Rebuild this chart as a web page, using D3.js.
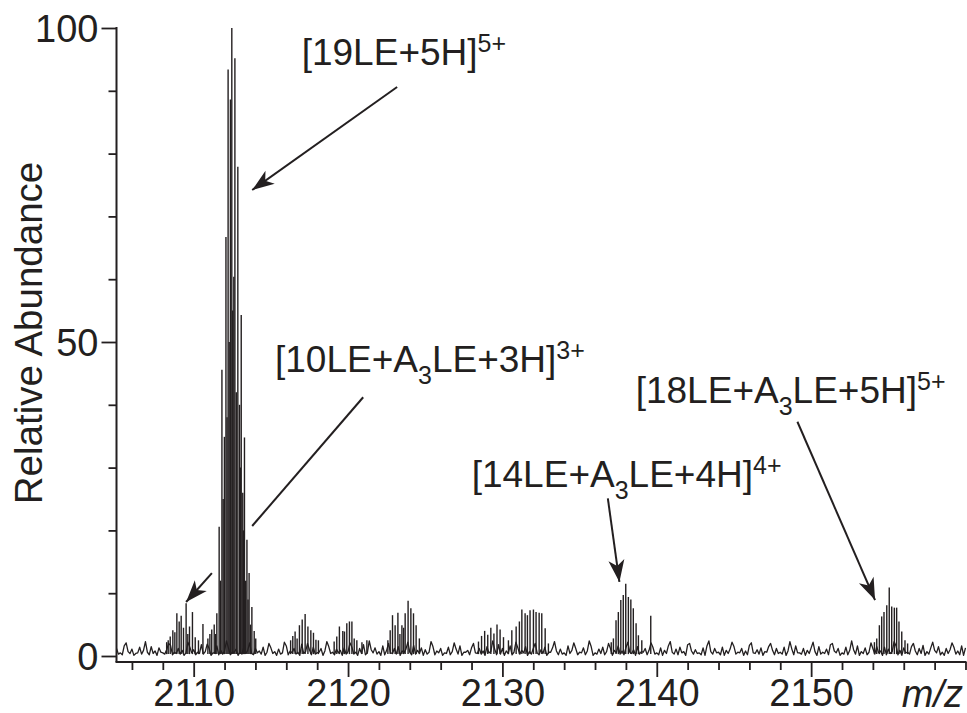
<!DOCTYPE html>
<html><head><meta charset="utf-8">
<script src="https://cdn.jsdelivr.net/npm/d3@7"></script>
<style>
body{margin:0;background:#fff}
svg{display:block}
text{font-family:'Liberation Sans',Arial,Helvetica,sans-serif;fill:#231f20}
</style>
</head><body>
<svg id="chart" width="967" height="713"></svg>
<script>
// ---------------- data ----------------
const xDomain = [2105, 2160];
const yDomain = [0, 100];
const xMajorTicks = [2110, 2120, 2130, 2140, 2150];
const xMinorTicks = [2106, 2108, 2112, 2114, 2116, 2118, 2122, 2124, 2126, 2128, 2132, 2134, 2136, 2138, 2142, 2144, 2146, 2148, 2152, 2154, 2156, 2158, 2160];
const yMajorTicks = [0, 50, 100];
const yMinorTicks = [10, 20, 30, 40, 60, 70, 80, 90];
const xAxisTitle = "m/z";
const yAxisTitle = "Relative Abundance";

// baseline noise, readings every 0.25 m/z from 2105.00 (A) and from 2105.125 (B)
const noiseStart = 2105, noiseStep = 0.25;
const noiseA = [
 1.2,0.5,1.6,0.7,1.1,0.4,1.4,0.9,0.6,1.5,0.8,1.3,0.5,1.0,1.7,0.6,1.2,0.9,0.5,1.4,
 1.0,0.6,1.8,0.7,1.2,0.5,1.6,0.9,0.8,1.3,0.6,1.1,0.7,1.5,0.9,0.4,1.2,0.8,1.4,0.6,
 1.3,0.7,1.1,0.5,1.6,0.8,1.2,0.6,1.9,0.7,1.0,1.4,0.5,1.2,0.8,1.5,0.6,1.1,0.9,1.3,
 0.7,1.4,0.6,1.2,1.8,0.5,1.0,1.3,0.7,1.6,0.9,0.5,1.2,1.5,0.8,1.1,0.6,1.7,0.9,1.3,
 1.0,0.6,1.5,0.8,1.2,0.5,1.4,0.7,1.1,1.6,0.6,0.9,1.3,0.5,1.2,0.8,1.5,0.7,1.1,1.8,
 1.2,0.8,1.6,0.6,1.3,0.9,1.5,0.7,1.2,0.5,1.0,1.4,0.6,1.3,0.8,1.1,0.5,1.6,0.9,1.2,
 0.6,1.3,0.8,1.5,0.5,1.1,1.4,0.7,1.2,0.9,1.6,0.8,1.3,0.6,1.0,1.5,0.7,1.2,0.9,1.4,
 0.5,1.3,0.9,1.6,0.6,1.1,1.4,0.7,1.8,0.8,1.0,0.5,1.3,1.6,0.7,1.2,0.6,1.4,0.9,1.1,
 1.5,0.6,1.2,0.8,1.7,0.5,1.0,1.3,0.7,1.5,0.9,1.2,0.6,1.4,0.8,1.1,1.6,0.5,1.2,0.9,
 1.3,0.7,1.5,0.6,1.1,1.8,0.8,1.2,0.5,1.4,0.9,1.0,1.6,0.7,1.3,0.6,1.2,1.5,0.8,1.4,
 1.1,0.7,1.6,0.9,1.3,0.6,1.5,0.8,1.2,1.7,0.7,1.3,0.9,1.5,0.6,1.2,1.0,1.4,0.8,1.6,1.3
];
const noiseB = [
 0.3,0.2,2.1,0.4,0.1,0.5,0.3,2.3,0.2,0.4,0.1,0.6,0.3,2.0,0.2,0.4,0.3,0.1,2.2,0.5,
 0.2,0.4,0.3,1.9,0.1,0.5,0.2,0.3,2.4,0.2,0.6,0.1,0.3,0.4,2.1,0.2,0.5,0.3,0.1,2.0,
 0.4,0.1,0.3,2.2,0.2,0.5,0.3,0.1,0.4,2.0,0.2,0.3,0.6,0.1,2.3,0.4,0.2,0.5,0.1,0.3,
 2.1,0.3,0.1,0.4,0.2,2.4,0.5,0.3,0.1,0.2,2.0,0.4,0.3,0.1,0.5,2.2,0.2,0.3,0.4,0.1,
 0.3,2.3,0.2,0.5,0.1,0.4,0.2,2.1,0.3,0.1,0.6,0.2,2.0,0.4,0.3,0.1,0.5,2.4,0.2,0.3,
 0.1,0.4,0.2,2.2,0.3,0.5,0.1,0.3,2.0,0.2,0.4,0.1,0.6,2.3,0.2,0.3,0.1,0.4,2.1,0.2,
 0.5,0.2,2.4,0.1,0.3,0.4,0.2,2.0,0.1,0.5,0.3,0.2,2.2,0.4,0.1,0.3,0.6,0.2,2.1,0.3,
 0.2,0.1,0.4,2.3,0.3,0.2,0.5,0.1,2.0,0.3,0.4,0.2,0.1,2.4,0.3,0.5,0.2,0.1,0.4,2.2,
 0.3,0.5,0.1,0.2,2.1,0.4,0.3,0.1,0.6,2.0,0.2,0.4,0.3,0.1,2.3,0.2,0.5,0.3,0.1,0.4,
 2.2,0.1,0.3,0.4,0.2,2.0,0.5,0.1,0.3,0.2,2.4,0.3,0.1,0.4,0.2,2.1,0.3,0.5,0.1,0.2,
 0.4,2.3,0.2,0.1,0.5,0.3,2.0,0.2,0.4,0.1,0.3,2.2,0.5,0.2,0.1,0.4,2.1,0.3,0.2,0.1
];

// isotope peaks (m/z, relative abundance)
const peakMz = [
 // 2108-2111 cluster
 2108.25,2108.35,2108.48,2108.65,2108.78,2108.91,2109.06,2109.19,2109.34,2109.51,2109.62,2109.73,2109.92,2110.10,2110.31,2110.60,2110.92,
 // main cluster
 2111.05,2111.17,2111.33,2111.42,2111.50,2111.65,2111.74,2111.83,2111.91,2111.99,2112.09,2112.16,2112.23,2112.30,2112.38,2112.47,2112.53,
 2112.60,2112.67,2112.76,2112.86,2112.97,2113.02,2113.08,2113.18,2113.23,2113.29,2113.37,2113.45,2113.52,2113.59,2113.68,2113.77,2113.92,2114.02,
 // 2116-2118
 2116.28,2116.42,2116.57,2116.70,2116.85,2117.03,2117.22,2117.40,2117.59,2117.76,2117.92,2118.08,
 // 2119-2121
 2119.10,2119.27,2119.44,2119.66,2119.77,2119.92,2120.09,2120.25,2120.40,2120.57,2120.90,2121.22,
 // 2122-2125
 2122.58,2122.73,2122.88,2123.05,2123.23,2123.36,2123.49,2123.60,2123.70,2123.89,2124.07,2124.24,2124.41,2124.62,
 // 2128-2133
 2128.45,2128.65,2128.85,2129.05,2129.25,2129.45,2129.65,2129.85,2130.07,2130.39,2130.61,2130.89,2131.10,2131.26,2131.47,2131.62,2131.79,
 2132.01,2132.18,2132.38,2132.55,2132.77,2132.98,
 // 2137-2139
 2137.05,2137.19,2137.36,2137.51,2137.67,2137.83,2137.99,2138.16,2138.32,2138.48,2138.66,2138.81,2139.03,2139.61,
 // 2154-2156
 2154.10,2154.25,2154.42,2154.57,2154.72,2154.90,2155.06,2155.22,2155.39,2155.54,2155.69,2155.87,2156.08,2156.25
];
const peakInt = [
 2.2,2.5,3.1,4.1,3.8,6.8,5.5,6.4,4.5,8.4,3.5,4.7,7.0,3.0,2.5,5.1,2.8,
 3.5,4.2,5.0,3.5,6.8,20.6,12,45.6,25,34.9,66.7,38,93.4,50,88.6,100,55,
 60.4,95.2,42,77.9,40,30,54.3,26,20,34.8,12,18.5,9,13.2,5,7.8,4.0,2.8,
 2.5,3.2,3.9,2.8,4.9,5.8,6.7,4.7,4.1,3.7,2.6,2.5,
 2.3,3.1,4.7,4.0,3.9,5.2,5.5,5.5,2.8,2.5,2.2,2.5,
 2.5,4.1,6.5,4.9,6.9,3.5,4.9,4.5,6.8,8.8,7.6,6.8,4.9,2.8,
 2.3,3.2,4.0,3.4,4.5,3.6,5.0,4.2,3.0,2.5,4.1,4.7,5.5,7.4,6.8,6.5,7.3,
 7.4,7.0,6.9,6.8,4.4,2.0,
 2.2,2.8,5.7,7.0,8.9,9.7,11.5,9.4,9.0,7.6,5.2,3.3,2.5,6.4,
 2.2,2.8,4.9,6.3,7.0,8.1,10.9,7.9,7.7,7.7,5.5,3.9,2.5,2.0
];

// annotation labels: segments with optional sub/superscript
const labelTexts = [
 [["[19LE+5H]",""],["5+","sup"]],
 [["[10LE+A",""],["3","sub"],["LE+3H]",""],["3+","sup"]],
 [["[14LE+A",""],["3","sub"],["LE+4H]",""],["4+","sup"]],
 [["[18LE+A",""],["3","sub"],["LE+5H]",""],["5+","sup"]]
];
// pointer lines in data coordinates
const pointerFromMz = [2123.18, 2120.98, 2111.18, 2136.83, 2149.11];
const pointerFromInt = [90.6, 41.2, 13.2, 25.1, 37.3];
const pointerToMz = [2113.79, 2113.79, 2109.51, 2137.58, 2154.14];
const pointerToInt = [74.2, 20.7, 8.6, 11.8, 8.9];
const pointerHead = [true, false, true, true, true];

// ---------------- layout ----------------
const plot = {left: 116.5, right: 965.5, top: 28, zeroY: 656, axisY: 662};
const labelPos = [[301.7, 65], [275, 371.7], [471.7, 486.7], [635.7, 403]];
const ink = "#231f20";
const tickFont = 38;

const svg = d3.select("#chart");
const x = d3.scaleLinear().domain(xDomain).range([plot.left, plot.right]);
const y = d3.scaleLinear().domain(yDomain).range([plot.zeroY, plot.top]);

// ---- spectrum: baseline noise + stick peaks
const noisePts = noiseA.map((v, i) => [noiseStart + i * noiseStep, v])
  .concat(noiseB.map((v, i) => [noiseStart + noiseStep / 2 + i * noiseStep, v]))
  .sort((a, b) => a[0] - b[0]);
const line = d3.line().x(d => x(d[0])).y(d => y(d[1]));
svg.append("path").attr("d", line(noisePts))
  .attr("fill", "none").attr("stroke", ink).attr("stroke-width", 1.3).attr("stroke-linejoin", "round");

const peaks = peakMz.map((m, i) => ({mz: m, v: peakInt[i]}));
svg.append("g").selectAll("line").data(peaks).join("line")
  .attr("x1", d => x(d.mz)).attr("x2", d => x(d.mz))
  .attr("y1", y(0.3)).attr("y2", d => y(d.v))
  .attr("stroke", ink).attr("stroke-width", 1.4);

// ---- axes
const yAxisMinor = d3.axisLeft(y).tickValues(yMinorTicks).tickSize(8).tickFormat("");
const yAxisMajor = d3.axisLeft(y).tickValues(yMajorTicks).tickSize(15).tickPadding(3).tickFormat(d3.format("d"));
const gy1 = svg.append("g").attr("transform", `translate(${plot.left},0)`).call(yAxisMinor);
const gy2 = svg.append("g").attr("transform", `translate(${plot.left},0)`).call(yAxisMajor);
[gy1, gy2].forEach(g => { g.select(".domain").remove(); g.selectAll("line").attr("stroke", ink).attr("stroke-width", 1.8); });
gy2.selectAll("text").attr("font-size", tickFont).attr("fill", ink).attr("dy", "0.36em")
  .style("font-family", "'Liberation Sans',Arial,sans-serif");
svg.append("line").attr("x1", plot.left).attr("x2", plot.left).attr("y1", plot.top - 1).attr("y2", plot.axisY)
  .attr("stroke", ink).attr("stroke-width", 2);

const xAxisMinor = d3.axisBottom(x).tickValues(xMinorTicks).tickSize(8).tickFormat("");
const xAxisMajor = d3.axisBottom(x).tickValues(xMajorTicks).tickSize(15).tickPadding(2).tickFormat(d3.format("d"));
const gx1 = svg.append("g").attr("transform", `translate(0,${plot.axisY})`).call(xAxisMinor);
const gx2 = svg.append("g").attr("transform", `translate(0,${plot.axisY})`).call(xAxisMajor);
[gx1, gx2].forEach(g => { g.select(".domain").remove(); g.selectAll("line").attr("stroke", ink).attr("stroke-width", 1.8); });
gx2.selectAll("text").attr("font-size", tickFont).attr("fill", ink).attr("dy", "0.71em")
  .style("font-family", "'Liberation Sans',Arial,sans-serif");
svg.append("line").attr("x1", plot.left - 1).attr("x2", plot.right + 1).attr("y1", plot.axisY).attr("y2", plot.axisY)
  .attr("stroke", ink).attr("stroke-width", 2);

svg.append("text").attr("x", 963).attr("y", 706.5).attr("text-anchor", "end")
  .attr("font-size", tickFont).attr("font-style", "italic").text(xAxisTitle);
svg.append("text").attr("transform", "translate(42,333) rotate(-90)").attr("text-anchor", "middle")
  .attr("font-size", 38.5).text(yAxisTitle);

// ---- annotations
labelTexts.forEach((segs, i) => {
  const t = svg.append("text").attr("x", labelPos[i][0]).attr("y", labelPos[i][1]).attr("font-size", 37);
  let shift = 0;
  segs.forEach(([s, kind]) => {
    const ts = t.append("tspan").text(s);
    const target = kind === "sup" ? -13 : kind === "sub" ? 12 : 0;
    ts.attr("dy", target - shift);
    shift = target;
    if (kind) ts.attr("font-size", 25);
  });
});

const defs = svg.append("defs");
defs.append("marker").attr("id", "head").attr("viewBox", "-24 -9 26 18")
  .attr("refX", 0).attr("refY", 0).attr("markerWidth", 26).attr("markerHeight", 18)
  .attr("markerUnits", "userSpaceOnUse").attr("orient", "auto")
  .append("path").attr("d", "M0,0 L-22,-8 L-16,0 L-22,8 Z").attr("fill", ink);

pointerFromMz.forEach((m, i) => {
  svg.append("line")
    .attr("x1", x(m)).attr("y1", y(pointerFromInt[i]))
    .attr("x2", x(pointerToMz[i])).attr("y2", y(pointerToInt[i]))
    .attr("stroke", ink).attr("stroke-width", 2)
    .attr("marker-end", pointerHead[i] ? "url(#head)" : null);
});
</script>
</body></html>
